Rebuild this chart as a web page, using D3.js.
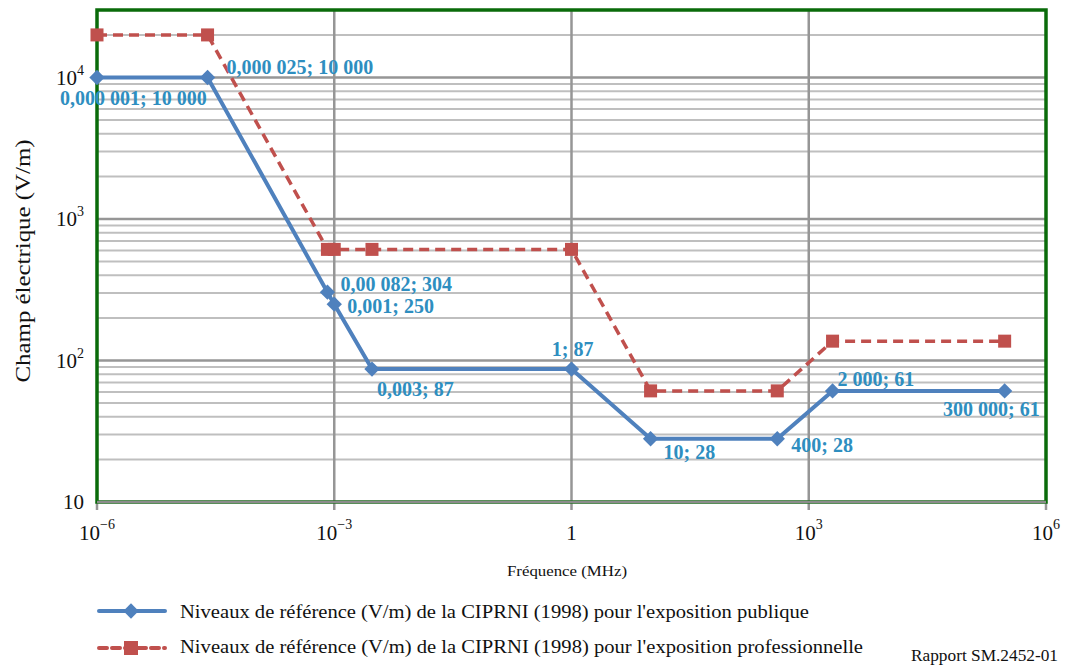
<!DOCTYPE html>
<html><head><meta charset="utf-8">
<script src="https://cdn.jsdelivr.net/npm/d3@7"></script>
<style>body{margin:0;background:#fff}svg{display:block}</style>
</head><body>
<svg id="c" width="1069" height="666" font-family="'Liberation Serif', 'Times New Roman', Times, 'DejaVu Serif', serif"></svg>
<script>
const pubFreq = [1e-6, 2.5e-5, 8.2e-4, 1e-3, 3e-3, 1, 10, 400, 2000, 300000];
const pubField = [10000, 10000, 304, 250, 87, 87, 28, 28, 61, 61];
const pubLabels = ["0,000 001; 10 000","0,000 025; 10 000","0,00 082; 304","0,001; 250","0,003; 87","1; 87","10; 28","400; 28","2 000; 61","300 000; 61"];
const occFreq = [1e-6, 2.5e-5, 8.2e-4, 1e-3, 3e-3, 1, 10, 400, 2000, 300000];
const occField = [20000, 20000, 610, 610, 610, 610, 61, 61, 137, 137];
const xTicks = [1e-6, 1e-3, 1, 1e3, 1e6];
const xTickExp = ["−6","−3","","3","6"];
const yTicks = [10, 100, 1000, 10000];
const yTickExp = ["","2","3","4"];
const seriesNames = ["Niveaux de référence (V/m) de la CIPRNI (1998) pour l'exposition publique",
                     "Niveaux de référence (V/m) de la CIPRNI (1998) pour l'exposition professionnelle"];
// label offsets (layout only) [dx, dy, anchor]
const labelPos = [[-37,27,"start"],[19,-4,"start"],[13,-1,"start"],[13,9,"start"],[5,27,"start"],[22,-13,"end"],[13,20,"start"],[14,13,"start"],[5,-5,"start"],[35,25,"end"]];

const svg = d3.select("#c");
const L=97,R=1046,T=10,B=502;
const x = d3.scaleLog().domain([1e-6,1e6]).range([L,R]);
const y = d3.scaleLog().domain([10,30000]).range([B,T]);

// minor horizontal grid
const minor=[];
for(let d=10; d<30000; d*=10){ for(let k=2;k<=9;k++){ const v=k*d; if(v<=30000) minor.push(v);} }
svg.append("g").selectAll("line").data(minor).join("line")
  .attr("x1",L).attr("x2",R).attr("y1",d=>y(d)).attr("y2",d=>y(d))
  .attr("stroke","#bfbfbf").attr("stroke-width",2);
svg.append("g").selectAll("line").data(yTicks.slice(1)).join("line")
  .attr("x1",L).attr("x2",R).attr("y1",d=>y(d)).attr("y2",d=>y(d))
  .attr("stroke","#969696").attr("stroke-width",2.5);
svg.append("g").selectAll("line").data(xTicks.slice(1,-1)).join("line")
  .attr("x1",d=>x(d)).attr("x2",d=>x(d)).attr("y1",T).attr("y2",B+8)
  .attr("stroke","#969696").attr("stroke-width",2.5);
svg.append("g").selectAll("line").data([xTicks[0],xTicks[4]]).join("line")
  .attr("x1",d=>x(d)).attr("x2",d=>x(d)).attr("y1",B).attr("y2",B+8)
  .attr("stroke","#969696").attr("stroke-width",2.5);

// frame
svg.append("rect").attr("x",L).attr("y",T).attr("width",R-L).attr("height",B-T)
  .attr("fill","none").attr("stroke","#0a6b0a").attr("stroke-width",3.5);
svg.append("line").attr("x1",L).attr("x2",R).attr("y1",B).attr("y2",B).attr("stroke","#8c8c8c").attr("stroke-width",2.5);

// y ticks
const yt = svg.append("g").selectAll("text").data(yTicks).join("text")
  .attr("x",84).attr("y",(d)=>y(d)+7).attr("text-anchor","end").attr("font-size",21).attr("fill","#111");
yt.each(function(d,i){
  const t=d3.select(this);
  if(yTickExp[i]===""){ t.text("10"); }
  else { t.append("tspan").text("10"); t.append("tspan").attr("dy",-10).attr("font-size",14).text(yTickExp[i]); }
});
// x ticks
const xt = svg.append("g").selectAll("text").data(xTicks).join("text")
  .attr("x",d=>x(d)).attr("y",540).attr("text-anchor","middle").attr("font-size",21).attr("fill","#111");
xt.each(function(d,i){
  const t=d3.select(this);
  if(xTickExp[i]===""){ t.text("1"); }
  else { t.append("tspan").text("10"); t.append("tspan").attr("dy",-11).attr("font-size",14).text(xTickExp[i]); }
});

svg.append("text").attr("x",507).attr("y",576).attr("font-size",15).attr("textLength",120).attr("lengthAdjust","spacingAndGlyphs").attr("fill","#111").text("Fréquence (MHz)");
svg.append("text").attr("transform","translate(30,261) rotate(-90)").attr("text-anchor","middle").attr("font-size",21).attr("textLength",243).attr("lengthAdjust","spacingAndGlyphs").attr("fill","#111").text("Champ électrique (V/m)");

const line = d3.line().x(d=>x(d[0])).y(d=>y(d[1]));
const occ = occFreq.map((f,i)=>[f,occField[i]]);
const pub = pubFreq.map((f,i)=>[f,pubField[i]]);

svg.append("path").datum(occ).attr("d",line).attr("fill","none").attr("stroke","#c0504d").attr("stroke-width",3.5).attr("stroke-dasharray","10,6");
svg.append("g").selectAll("rect").data(occ).join("rect")
  .attr("x",d=>x(d[0])-6.5).attr("y",d=>y(d[1])-6.5).attr("width",13).attr("height",13).attr("fill","#c0504d");

svg.append("path").datum(pub).attr("d",line).attr("fill","none").attr("stroke","#4f81bd").attr("stroke-width",4);
const diamond = d3.symbol().type(d3.symbolDiamond2).size(150);
svg.append("g").selectAll("path").data(pub).join("path")
  .attr("d",diamond).attr("transform",d=>`translate(${x(d[0])},${y(d[1])})`).attr("fill","#4f81bd");

svg.append("g").selectAll("text").data(pub).join("text")
  .attr("x",(d,i)=>x(d[0])+labelPos[i][0]).attr("y",(d,i)=>y(d[1])+labelPos[i][1])
  .attr("text-anchor",(d,i)=>labelPos[i][2]).attr("font-size",20).attr("font-weight","bold").attr("fill","#2e8ec0")
  .text((d,i)=>pubLabels[i]);

// legend
const lg = svg.append("g");
lg.append("line").attr("x1",99).attr("x2",165).attr("y1",611).attr("y2",611).attr("stroke","#4f81bd").attr("stroke-width",4).attr("stroke-linecap","round");
lg.append("path").attr("d",diamond).attr("transform","translate(131,611)").attr("fill","#4f81bd");
lg.append("line").attr("x1",99).attr("x2",165).attr("y1",648).attr("y2",648).attr("stroke","#c0504d").attr("stroke-width",4).attr("stroke-dasharray","8,5").attr("stroke-linecap","round");
lg.append("rect").attr("x",124).attr("y",641).attr("width",14).attr("height",14).attr("fill","#c0504d");
const legLen=[629,683];
lg.selectAll("text").data(seriesNames).join("text")
  .attr("x",180).attr("y",(d,i)=>[618,653][i]).attr("font-size",18).attr("textLength",(d,i)=>legLen[i]).attr("lengthAdjust","spacingAndGlyphs").attr("fill","#111").text(d=>d);
svg.append("text").attr("x",911).attr("y",661).attr("font-size",16).attr("textLength",147).attr("lengthAdjust","spacingAndGlyphs").attr("fill","#111").text("Rapport SM.2452-01");
</script>
</body></html>
